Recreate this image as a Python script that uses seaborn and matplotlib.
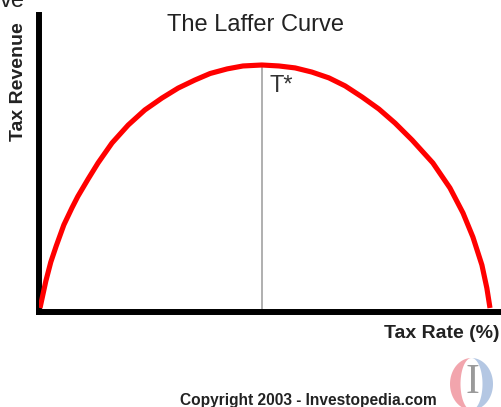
import numpy as np
import pandas as pd
import matplotlib
matplotlib.use("Agg")
import matplotlib.pyplot as plt
from matplotlib.patches import Polygon
import seaborn as sns

# values (tax rate %, revenue as % of peak)
tax_rate = [0, 1.3, 2.4, 3.6, 5.3, 7.1, 8.4, 10.7, 12.9, 16.0, 19.6, 23.3,
            27.1, 30.7, 34.4, 37.8, 41.6, 45.1, 49.3, 53.1, 56.7,
            60.4, 64.2, 67.8, 71.6, 75.3, 78.9, 82.7, 87.3, 91.1, 94.0,
            96.2, 98.2, 99.3, 100]
revenue = [0, 11.1, 18.9, 25.5, 34.2, 41.2, 45.9, 53.1, 59.7, 67.9, 75.3, 81.5,
           86.4, 90.5, 93.8, 96.5, 98.4, 99.6, 100, 99.6, 98.8,
           97.1, 94.7, 91.4, 86.8, 81.9, 76.1, 69.1, 59.7, 49.4, 39.1,
           29.2, 17.7, 8.2, 0]
t_star = 49.3
t_star_label = "T*"
title = "The Laffer Curve"
x_label = "Tax Rate (%)"
y_label = "Tax Revenue"
credit = "Copyright 2003 - Investopedia.com"

df = pd.DataFrame({"rate": tax_rate, "revenue": revenue})

sns.set_style("white")
plt.rcParams["font.family"] = ["Liberation Sans", "DejaVu Sans"]

W, H = 501, 407
fig = plt.figure(figsize=(W / 100, H / 100), dpi=100)


def fx(px):
    return px / W


def fy(py):
    return 1 - py / H


ax = fig.add_axes([fx(39), fy(312), 1 - fx(39), fy(15) - fy(312)])

sns.lineplot(data=df, x="rate", y="revenue", ax=ax, color="#ff0000",
             linewidth=3.7, estimator=None, sort=False, zorder=3,
             solid_joinstyle="round", solid_capstyle="butt")
ax.vlines(t_star, -2, max(revenue), color="#9a9a9a", linewidth=1.1, zorder=2)
ax.text(t_star + 1.8, 95.9, t_star_label, fontsize=17, color="#333333",
        va="top", ha="left")

# x=0 at px 40, x=100 at px 490; y=0 at px 308, y=100 at px 65
ax.set_xlim((39 - 40) / 4.5, (501 - 40) / 4.5)
ax.set_ylim(-(312 - 308) / 2.43, (308 - 15) / 2.43)
ax.set_xticks([]); ax.set_yticks([])
ax.set_xlabel(""); ax.set_ylabel("")
for side in ["top", "right"]:
    ax.spines[side].set_visible(False)
for side in ["left", "bottom"]:
    ax.spines[side].set_linewidth(4.3)
    ax.spines[side].set_color("black")
    ax.spines[side].set_capstyle("projecting")

fig.text(fx(256), fy(14), title, fontsize=17, color="#222222",
         ha="center", va="top")
fig.text(fx(19), fy(82), y_label, fontsize=14, fontweight="bold",
         rotation=90, ha="center", va="center", color="#222222")
fig.text(fx(500), fy(325), x_label, fontsize=14, fontweight="bold",
         ha="right", va="top", color="#222222")
fig.text(fx(308), fy(393), credit, fontsize=11.2, fontweight="bold",
         ha="center", va="top", color="#222222")
fig.text(0, fy(7), "ve", fontsize=17, color="#222222", ha="left",
         va="baseline")

# little logo, bottom right
cx, cy, a, a_in, b = 471.5, 384, 21.5, 11, 26
for t0, t1, col in [(90, 270, "#f2a5ad"), (-90, 90, "#b4c7e3")]:
    th = np.radians(np.linspace(t0, t1, 60))
    outer = np.column_stack([cx + a * np.cos(th), cy + b * np.sin(th)])
    inner = np.column_stack([cx + a_in * np.cos(th), cy + b * np.sin(th)])[::-1]
    pts = np.vstack([outer, inner])
    pts = np.column_stack([fx(pts[:, 0]), fy(pts[:, 1])])
    fig.patches.append(Polygon(pts, closed=True, facecolor=col,
                               edgecolor="none", transform=fig.transFigure))
fig.text(fx(472), fy(383), "I", fontsize=30, family="Liberation Serif",
         color="#9a9a9a", ha="center", va="center")

fig.savefig("out.png", dpi=100)
